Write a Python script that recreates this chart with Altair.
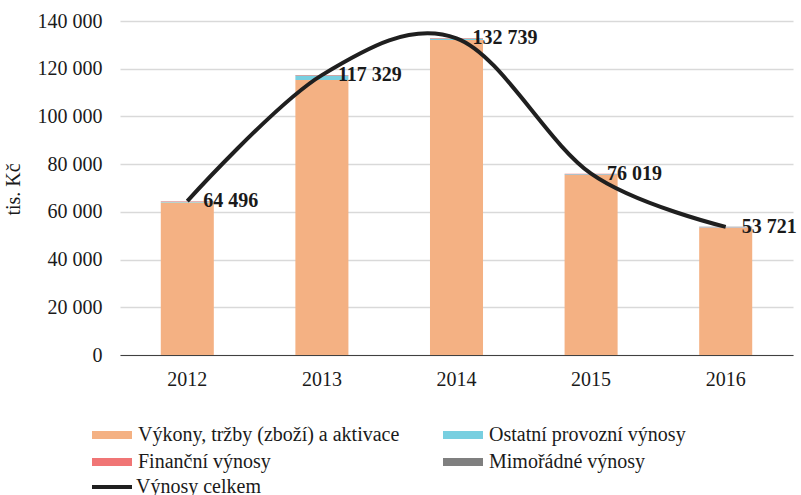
import altair as alt
import pandas as pd

years = ["2012", "2013", "2014", "2015", "2016"]
series = ["Výkony, tržby (zboží) a aktivace", "Ostatní provozní výnosy",
          "Finanční výnosy", "Mimořádné výnosy"]
vykony = [63900, 115300, 132000, 75400, 53300]
ostatni = [350, 1700, 500, 400, 250]
financni = [200, 300, 200, 200, 150]
mimoradne = [46, 29, 39, 19, 21]
totals = [64496, 117329, 132739, 76019, 53721]
line_name = "Výnosy celkem"
colors = ["#F4B183", "#78CFE0", "#F07575", "#7F7F7F"]

rows = []
for i, y in enumerate(years):
    for k, vals in enumerate([vykony, ostatni, financni, mimoradne]):
        rows.append({"year": y, "series": series[k], "value": vals[i], "idx": k})
bars_df = pd.DataFrame(rows)
tot_df = pd.DataFrame({"year": years, "total": totals, "name": [line_name] * len(years)})

FONT = "Liberation Serif"

x_enc = alt.X("year:N", title=None,
              scale=alt.Scale(paddingInner=0.606, paddingOuter=0.303),
              axis=alt.Axis(labelAngle=0, ticks=False, labelPadding=14,
                            domainColor="#404040", domainWidth=1,
                            labelFont=FONT, labelFontSize=20, labelColor="#1a1a1a"))

bars = alt.Chart(bars_df).mark_bar().encode(
    x=x_enc,
    y=alt.Y("sum(value):Q", title="tis. Kč",
            scale=alt.Scale(domain=[0, 140000], nice=False),
            stack="zero",
            axis=alt.Axis(values=[0, 20000, 40000, 60000, 80000, 100000, 120000, 140000],
                          labelExpr="replace(format(datum.value, ','), ',', ' ')",
                          domain=False, ticks=False, gridColor="#d9d9d9", gridWidth=1.3,
                          labelPadding=18, labelFont=FONT, labelFontSize=20,
                          labelColor="#1a1a1a",
                          titleFont=FONT, titleFontSize=20, titleFontWeight="normal",
                          titleColor="#1a1a1a", titleAngle=-90, titleX=-107, titleY=168,
                          titleAlign="center", titleBaseline="middle")),
    color=alt.Color("series:N",
                    scale=alt.Scale(domain=series, range=colors),
                    legend=alt.Legend(title=None, orient="none", legendX=-18, legendY=404,
                                      columns=2, direction="horizontal",
                                      columnPadding=43, rowPadding=7,
                                      symbolType="M-2.5,-0.5H2.5V0.5H-2.5Z", symbolSize=256,
                                      symbolStrokeWidth=0, labelOffset=16,
                                      labelFont=FONT, labelFontSize=20,
                                      labelColor="#1a1a1a", labelLimit=400)),
    order=alt.Order("idx:Q", sort="ascending"),
)

line = alt.Chart(tot_df).mark_line(interpolate="cardinal", strokeWidth=4).encode(
    x=alt.X("year:N"),
    y=alt.Y("total:Q"),
    stroke=alt.Stroke("name:N", scale=alt.Scale(domain=[line_name], range=["#1f1f1f"]),
                      legend=alt.Legend(title=None, orient="none", legendX=-18, legendY=456,
                                        symbolType="M-2.5,0H2.5", symbolSize=256,
                                        symbolStrokeWidth=4, labelOffset=14,
                                        labelFont=FONT, labelFontSize=20,
                                        labelColor="#1a1a1a")),
)

labels = alt.Chart(tot_df).transform_calculate(
    lab="replace(format(datum.total, ','), ',', ' ')"
).mark_text(align="left", baseline="middle", dx=16, font=FONT, fontSize=20,
            fontWeight="bold", color="#1a1a1a").encode(
    x=alt.X("year:N"),
    y=alt.Y("total:Q"),
    text="lab:N",
)

chart = alt.layer(bars, line, labels).properties(
    width=673, height=334,
    autosize=alt.AutoSizeParams(type="none"),
    padding={"left": 120, "top": 21, "right": 8, "bottom": 140},
).configure_view(stroke=None).resolve_scale(color="independent")

chart.save("out.html", embed_options={"renderer": "svg", "actions": False})
